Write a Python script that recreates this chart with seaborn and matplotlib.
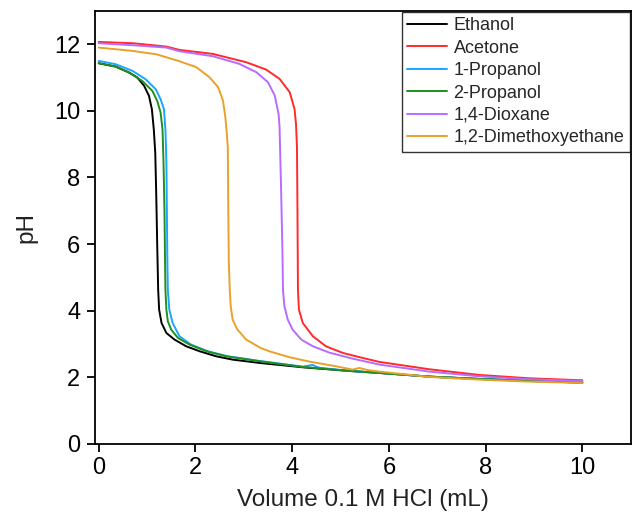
import numpy as np
import pandas as pd
import matplotlib
matplotlib.use("Agg")
import matplotlib.pyplot as plt
import seaborn as sns

ethanol_v = [0, 0.35, 0.63, 0.80, 0.94, 1.04, 1.10, 1.14, 1.17, 1.19, 1.21, 1.23, 1.25, 1.30, 1.40, 1.57, 1.81, 2.09, 2.43, 2.77, 3.33, 4.22, 5.19, 5.81, 6.84, 7.87, 8.90, 10.0]
ethanol_ph = [11.43, 11.33, 11.15, 11.00, 10.75, 10.45, 10.05, 9.44, 8.74, 7.50, 6.00, 4.63, 4.03, 3.63, 3.33, 3.13, 2.93, 2.78, 2.63, 2.53, 2.43, 2.30, 2.19, 2.13, 2.02, 1.95, 1.89, 1.84]

acetone_v = [0, 0.71, 1.40, 1.67, 2.36, 3.05, 3.46, 3.74, 3.95, 4.05, 4.08, 4.10, 4.11, 4.12, 4.14, 4.22, 4.43, 4.70, 5.05, 5.46, 5.81, 6.84, 7.87, 8.90, 10.0]
acetone_ph = [12.07, 12.03, 11.93, 11.83, 11.71, 11.46, 11.24, 10.96, 10.56, 10.05, 9.60, 8.90, 7.00, 4.63, 4.03, 3.63, 3.23, 2.93, 2.73, 2.58, 2.46, 2.24, 2.07, 1.97, 1.91]

prop1_v = [0, 0.35, 0.70, 0.97, 1.18, 1.28, 1.35, 1.38, 1.40, 1.41, 1.42, 1.43, 1.46, 1.53, 1.67, 1.91, 2.26, 2.67, 3.33, 4.22, 4.42, 4.55, 5.19, 5.81, 6.84, 7.87, 8.90, 10.0]
prop1_ph = [11.50, 11.40, 11.20, 10.95, 10.65, 10.35, 10.05, 9.44, 8.50, 7.00, 5.50, 4.63, 4.03, 3.63, 3.23, 2.98, 2.78, 2.63, 2.49, 2.32, 2.37, 2.29, 2.19, 2.13, 2.02, 1.95, 1.90, 1.85]

prop2_v = [0, 0.35, 0.63, 0.90, 1.11, 1.21, 1.28, 1.32, 1.34, 1.36, 1.38, 1.40, 1.43, 1.50, 1.64, 1.88, 2.23, 2.64, 3.33, 4.22, 5.19, 5.81, 6.84, 7.87, 8.90, 10.0]
prop2_ph = [11.43, 11.33, 11.15, 10.90, 10.60, 10.30, 9.95, 9.44, 8.50, 7.00, 4.63, 4.03, 3.68, 3.43, 3.18, 2.98, 2.78, 2.63, 2.48, 2.31, 2.19, 2.13, 2.02, 1.95, 1.89, 1.84]

diox_v = [0, 0.71, 1.40, 1.67, 2.36, 2.91, 3.26, 3.50, 3.64, 3.72, 3.74, 3.75, 3.77, 3.80, 3.81, 3.84, 3.91, 4.01, 4.19, 4.43, 4.77, 5.25, 5.81, 6.84, 7.87, 8.90, 10.0]
diox_ph = [12.03, 11.97, 11.90, 11.79, 11.64, 11.41, 11.16, 10.86, 10.46, 9.90, 9.50, 8.90, 7.74, 5.74, 4.63, 4.13, 3.73, 3.43, 3.13, 2.93, 2.74, 2.56, 2.38, 2.17, 2.03, 1.94, 1.89]

dme_v = [0, 0.70, 1.19, 1.67, 2.02, 2.29, 2.47, 2.57, 2.62, 2.65, 2.67, 2.68, 2.69, 2.71, 2.73, 2.77, 2.86, 3.05, 3.35, 3.53, 3.95, 4.36, 4.91, 5.25, 5.39, 5.55, 5.81, 6.84, 7.87, 8.90, 10.0]
dme_ph = [11.90, 11.80, 11.70, 11.49, 11.31, 11.01, 10.71, 10.31, 9.80, 9.30, 8.90, 7.00, 5.50, 4.63, 4.13, 3.73, 3.45, 3.13, 2.88, 2.78, 2.60, 2.47, 2.33, 2.23, 2.28, 2.22, 2.17, 2.01, 1.93, 1.87, 1.83]

names = ["Ethanol", "Acetone", "1-Propanol", "2-Propanol", "1,4-Dioxane", "1,2-Dimethoxyethane"]
series_v = [ethanol_v, acetone_v, prop1_v, prop2_v, diox_v, dme_v]
series_ph = [ethanol_ph, acetone_ph, prop1_ph, prop2_ph, diox_ph, dme_ph]
colors = ["#000000", "#FF2A2A", "#1AA6FF", "#1F8F1F", "#B86BFF", "#E8A22A"]

x_ticks = [0, 2, 4, 6, 8, 10]
y_ticks = [0, 2, 4, 6, 8, 10, 12]

rows = []
for n, vs, ps in zip(names, series_v, series_ph):
    for v, p in zip(vs, ps):
        rows.append({"Solvent": n, "V": v, "pH": p})
df = pd.DataFrame(rows)

sns.set_theme(style="white")
plt.rcParams["font.family"] = ["Liberation Sans", "DejaVu Sans"]

fig = plt.figure(figsize=(6.32, 5.21), dpi=100)
ax = fig.add_axes([0.150, 0.148, 0.848, 0.831])

sns.lineplot(data=df, x="V", y="pH", hue="Solvent", hue_order=names,
             palette=dict(zip(names, colors)), estimator=None, sort=False,
             units="Solvent", linewidth=1.4, ax=ax)

ax.set_xlim(-0.08, 11.0)
ax.set_ylim(0, 13.0)
ax.set_xticks(x_ticks)
ax.set_yticks(y_ticks)
ax.tick_params(axis="both", which="both", direction="out", length=6, width=1.3,
               labelsize=17, color="black", labelcolor="black",
               bottom=True, left=True, top=False, right=False)
ax.tick_params(axis="y", pad=4.5)
ax.tick_params(axis="x", pad=3.5)
for s in ax.spines.values():
    s.set_visible(True)
    s.set_color("black")
    s.set_linewidth(1.3)

ax.set_xlabel("Volume 0.1 M HCl (mL)", fontsize=17.5, color="#222222", labelpad=7)
ax.set_ylabel("pH", fontsize=17.5, color="#222222", labelpad=12)

leg = ax.legend(loc="upper right", bbox_to_anchor=(1.0, 1.0), frameon=True,
                fontsize=13.0, handlelength=2.2, handletextpad=0.35,
                borderaxespad=0.05, borderpad=0.3, labelspacing=0.3, fancybox=False)
leg.get_frame().set_edgecolor("black")
leg.get_frame().set_linewidth(1.0)
leg.set_title(None)
for line in leg.get_lines():
    line.set_linewidth(1.4)

fig.savefig("out.png", dpi=100)
